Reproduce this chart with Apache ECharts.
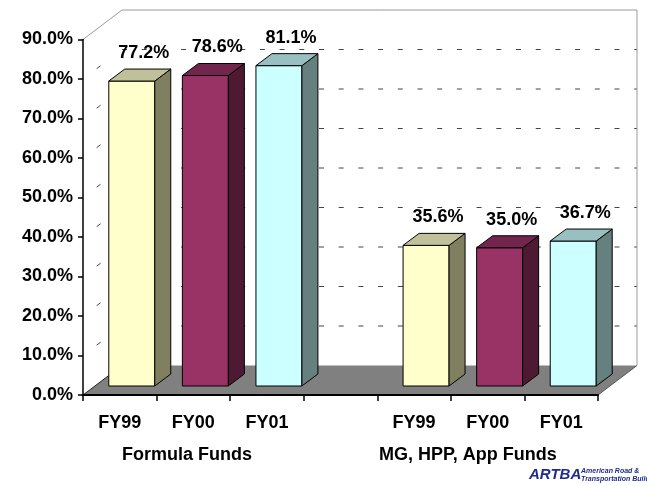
<!DOCTYPE html>
<html>
<head>
<meta charset="utf-8">
<script src="https://cdn.jsdelivr.net/npm/echarts@6/dist/echarts.min.js"></script>
<style>
  html, body { margin: 0; padding: 0; background: #fff; }
  #chart { width: 647px; height: 486px; }
</style>
</head>
<body>
<div id="chart"></div>
<script>
// categories along the floor; the empty one is the gap between the two groups
const categories = ["FY99", "FY00", "FY01", "", "FY99", "FY00", "FY01"];
const groupNames = ["Formula Funds", "MG, HPP, App Funds"];
// share of funds (percent), null = gap
const shareValues = [77.2, 78.6, 81.1, null, 35.6, 35.0, 36.7];
const yMin = 0, yMax = 90, yStep = 10;

// colours per year: front, side, top
const faceFront = ["#FFFFCC", "#993366", "#CCFFFF"];
const faceSide = ["#808060", "#4D1933", "#668080"];
const faceTop = ["#C0C09A", "#73264D", "#99C0C0"];

const FONT = "'Liberation Sans', Arial, sans-serif";
// depth of the 3D box (back wall offset) and bar placement inside it
const BX = 39, BY = -29.5;
const FX = 12, FY = -9;   // bar front face offset into the box
const DX = 16, DY = -12;  // bar depth

let chart = echarts.init(document.getElementById("chart"));

function renderWalls(params, api) {
  const cs = params.coordSys;
  const xL = cs.x, xR = cs.x + cs.width;
  const y0 = api.coord([0, yMin])[1];
  const yT = api.coord([0, yMax])[1];
  const els = [];
  // floor
  els.push({
    type: "polygon",
    shape: { points: [[xL, y0], [xR, y0], [xR + BX, y0 + BY], [xL + BX, y0 + BY]] },
    style: { fill: "#808080", stroke: null },
  });
  els.push({ type: "line", shape: { x1: xL, y1: y0, x2: xL + BX, y2: y0 + BY }, style: { stroke: "#222", lineWidth: 1 } });
  els.push({ type: "line", shape: { x1: xR, y1: y0, x2: xR + BX, y2: y0 + BY }, style: { stroke: "#555", lineWidth: 1 } });
  // back wall gridlines + side wall dashes
  for (let v = yMin + yStep; v < yMax; v += yStep) {
    const y = api.coord([0, v])[1];
    els.push({
      type: "line",
      shape: { x1: xL + BX, y1: y + BY, x2: xR + BX, y2: y + BY },
      style: { stroke: "#444", lineWidth: 1, lineDash: [5, 14.7] },
    });
    els.push({
      type: "line",
      shape: { x1: xL + BX * 0.35, y1: y + BY * 0.35, x2: xL + BX * 0.45, y2: y + BY * 0.45 },
      style: { stroke: "#444", lineWidth: 1 },
    });
  }
  // wall borders
  els.push({ type: "line", shape: { x1: xL, y1: yT, x2: xL + BX, y2: yT + BY }, style: { stroke: "#999", lineWidth: 1 } });
  els.push({ type: "line", shape: { x1: xL + BX, y1: yT + BY, x2: xR + BX, y2: yT + BY }, style: { stroke: "#999", lineWidth: 1 } });
  els.push({ type: "line", shape: { x1: xR + BX, y1: yT + BY, x2: xR + BX, y2: y0 + BY }, style: { stroke: "#999", lineWidth: 1 } });
  return { type: "group", children: els };
}

function renderBar(params, api) {
  const cat = api.value(0), v = api.value(1);
  const base = api.coord([cat, 0]);
  const top = api.coord([cat, v]);
  const w = api.size([1, 0])[0] * 0.625;
  const x0 = base[0] - w / 2 + FX, x1 = x0 + w;
  const yb = base[1] + FY, yt = top[1] + FY;
  const c = cat % 4;
  const line = { stroke: "#000", lineWidth: 1 };
  return {
    type: "group",
    children: [
      { type: "rect", shape: { x: x0, y: yt, width: w, height: yb - yt }, style: Object.assign({ fill: faceFront[c] }, line) },
      { type: "polygon", shape: { points: [[x1, yt], [x1 + DX, yt + DY], [x1 + DX, yb + DY], [x1, yb]] }, style: Object.assign({ fill: faceSide[c] }, line) },
      { type: "polygon", shape: { points: [[x0, yt], [x1, yt], [x1 + DX, yt + DY], [x0 + DX, yt + DY]] }, style: Object.assign({ fill: faceTop[c] }, line) },
      {
        type: "text",
        style: {
          x: x0 + w / 2 + 12, y: yt + DY - 16,
          text: v.toFixed(1) + "%",
          align: "center", verticalAlign: "middle",
          font: "bold 18px " + FONT, fill: "#000",
        },
      },
    ],
  };
}

const barData = [];
for (let i = 0; i < shareValues.length; i++) {
  if (shareValues[i] !== null) barData.push([i, shareValues[i]]);
}

let option = {
  animation: false,
  backgroundColor: "#fff",
  grid: { left: 83, right: 49, top: 39.5, bottom: 91 },
  xAxis: {
    type: "category",
    data: categories,
    boundaryGap: true,
    axisLine: { show: true, lineStyle: { color: "#000", width: 2 } },
    axisTick: { show: true, length: 6, lineStyle: { color: "#000", width: 1.5 } },
    axisLabel: { color: "#000", fontSize: 18, fontWeight: "bold", fontFamily: FONT, margin: 19, interval: 0 },
    splitLine: { show: false },
    z: 10,
  },
  yAxis: {
    type: "value",
    min: yMin,
    max: yMax,
    interval: yStep,
    axisLine: { show: true, lineStyle: { color: "#000", width: 1.5 } },
    axisTick: { show: true, length: 5, lineStyle: { color: "#000", width: 1.5 } },
    axisLabel: {
      color: "#000", fontSize: 18, fontWeight: "bold", fontFamily: FONT, margin: 10,
      formatter: (v) => v.toFixed(1) + "%",
    },
    splitLine: { show: false },
    z: 10,
  },
  series: [
    { type: "custom", renderItem: renderWalls, data: [[0, 0]], z: 1, silent: true, clip: false },
    { type: "custom", renderItem: renderBar, data: barData, z: 5, clip: false },
  ],
  graphic: [
    { type: "text", left: 122, top: 446, style: { text: groupNames[0], font: "bold 18px " + FONT, fill: "#000" } },
    { type: "text", left: 379, top: 446, style: { text: groupNames[1], font: "bold 18px " + FONT, fill: "#000" } },
    {
      type: "text", left: 529, top: 467,
      style: { text: "ARTBA", font: "italic 900 15px " + FONT, fill: "#1F2A8A" },
    },
    {
      type: "text", left: 581, top: 467,
      style: { text: "American Road &\nTransportation Builders", font: "italic bold 7px " + FONT, fill: "#1F2A8A", lineHeight: 8 },
    },
  ],
};

chart.setOption(option, true);
</script>
</body>
</html>
